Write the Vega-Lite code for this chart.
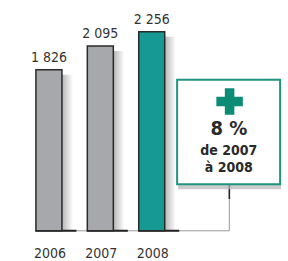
{
  "$schema": "https://vega.github.io/schema/vega-lite/v6.json",
  "width": 288,
  "height": 261,
  "padding": 0,
  "autosize": {"type": "fit", "contains": "padding"},
  "background": "#ffffff",
  "config": {"view": {"stroke": null}},
  "datasets": {
    "bars": [
      {"year": 2006, "value": 1826, "label": "1 826", "hl": "no"},
      {"year": 2007, "value": 2095, "label": "2 095", "hl": "no"},
      {"year": 2008, "value": 2256, "label": "2 256", "hl": "yes"}
    ],
    "note": [
      {"line": "8 %", "pos": 1148, "size": "big"},
      {"line": "de 2007", "pos": 900, "size": "small"},
      {"line": "à 2008", "pos": 708, "size": "small"}
    ]
  },
  "layer": [
    {
      "data": {"name": "bars"},
      "mark": {"type": "bar", "orient": "vertical", "width": 26, "xOffset": 11, "yOffset": 5,
        "fill": {"gradient": "linear", "x1": 0, "x2": 1, "y1": 0, "y2": 0,
          "stops": [{"offset": 0, "color": "#9a9a9a"}, {"offset": 0.5, "color": "#a8a8a8"}, {"offset": 1, "color": "#ffffff"}]}},
      "encoding": {
        "x": {"field": "year", "type": "quantitative", "scale": {"domain": [2005.1455, 2010.554], "nice": false, "zero": false}, "axis": null},
        "y": {"field": "value", "type": "quantitative", "scale": {"domain": [-331, 2615], "nice": false, "zero": false}, "axis": null},
        "y2": {"datum": 0}
      }
    },
    {
      "data": {"values": [{}]},
      "mark": {"type": "rule", "stroke": "#9a9a9a", "strokeWidth": 1},
      "encoding": {
        "x": {"datum": 2005.76, "type": "quantitative"},
        "x2": {"datum": 2009.51},
        "y": {"datum": 0, "type": "quantitative"}
      }
    },
    {
      "data": {"values": [{}]},
      "mark": {"type": "rule", "stroke": "#9a9a9a", "strokeWidth": 1},
      "encoding": {
        "x": {"datum": 2009.51, "type": "quantitative"},
        "y": {"datum": 0, "type": "quantitative"},
        "y2": {"datum": 360}
      }
    },
    {
      "data": {"values": [{}]},
      "mark": {"type": "rule", "stroke": "#222222", "strokeWidth": 1.6},
      "encoding": {
        "x": {"datum": 2009.51, "type": "quantitative"},
        "y": {"datum": 360, "type": "quantitative"},
        "y2": {"datum": 527}
      }
    },
    {
      "data": {"name": "bars"},
      "mark": {"type": "tick", "orient": "horizontal", "size": 41, "thickness": 2, "xOffset": 7, "color": "#222222", "opacity": 1},
      "encoding": {
        "x": {"field": "year", "type": "quantitative"},
        "y": {"datum": 0, "type": "quantitative"}
      }
    },
    {
      "data": {"name": "bars"},
      "mark": {"type": "bar", "orient": "vertical", "width": 26, "stroke": "#2a2a2a", "strokeWidth": 1.5},
      "encoding": {
        "x": {"field": "year", "type": "quantitative"},
        "y": {"field": "value", "type": "quantitative"},
        "y2": {"datum": 0},
        "fill": {"field": "hl", "type": "nominal", "scale": {"domain": ["no", "yes"], "range": ["#a7a8ab", "#169893"]}, "legend": null}
      }
    },
    {
      "data": {"name": "bars"},
      "mark": {"type": "text", "baseline": "alphabetic", "dy": -8, "font": "DejaVu Sans Condensed", "fontSize": 14, "color": "#333333"},
      "encoding": {
        "x": {"field": "year", "type": "quantitative"},
        "y": {"field": "value", "type": "quantitative"},
        "text": {"field": "label"}
      }
    },
    {
      "data": {"name": "bars"},
      "mark": {"type": "text", "baseline": "middle", "dy": 23, "dx": 1, "font": "DejaVu Sans Condensed", "fontSize": 14, "color": "#333333"},
      "encoding": {
        "x": {"field": "year", "type": "quantitative"},
        "y": {"datum": 0, "type": "quantitative"},
        "text": {"field": "year", "type": "quantitative", "format": "d"}
      }
    },
    {
      "data": {"values": [{}]},
      "mark": {"type": "rect", "fill": "#b5b5b5", "opacity": 0.7, "yOffset": 5, "y2Offset": 5, "xOffset": 1, "x2Offset": 1},
      "encoding": {
        "x": {"datum": 2008.494, "type": "quantitative"},
        "x2": {"datum": 2010.498},
        "y": {"datum": 1712, "type": "quantitative"},
        "y2": {"datum": 527}
      }
    },
    {
      "data": {"values": [{}]},
      "mark": {"type": "rect", "fill": "#ffffff", "stroke": "#1f9580", "strokeWidth": 2},
      "encoding": {
        "x": {"datum": 2008.494, "type": "quantitative"},
        "x2": {"datum": 2010.498},
        "y": {"datum": 1712, "type": "quantitative"},
        "y2": {"datum": 527}
      }
    },
    {
      "data": {"values": [{}]},
      "mark": {"type": "point", "filled": true, "opacity": 1, "color": "#0c8c74", "size": 702,
        "shape": "M-0.36,-1H0.36V-0.36H1V0.36H0.36V1H-0.36V0.36H-1V-0.36H-0.36Z"},
      "encoding": {
        "x": {"datum": 2009.515, "type": "quantitative"},
        "y": {"datum": 1464, "type": "quantitative"}
      }
    },
    {
      "data": {"name": "note"},
      "mark": {"type": "text", "baseline": "middle", "font": "DejaVu Sans Condensed", "fontWeight": "bold", "color": "#2a2a2a"},
      "encoding": {
        "x": {"datum": 2009.5, "type": "quantitative"},
        "y": {"field": "pos", "type": "quantitative"},
        "text": {"field": "line"},
        "size": {"field": "size", "type": "nominal", "scale": {"domain": ["big", "small"], "range": [20, 14]}, "legend": null}
      }
    }
  ]
}
